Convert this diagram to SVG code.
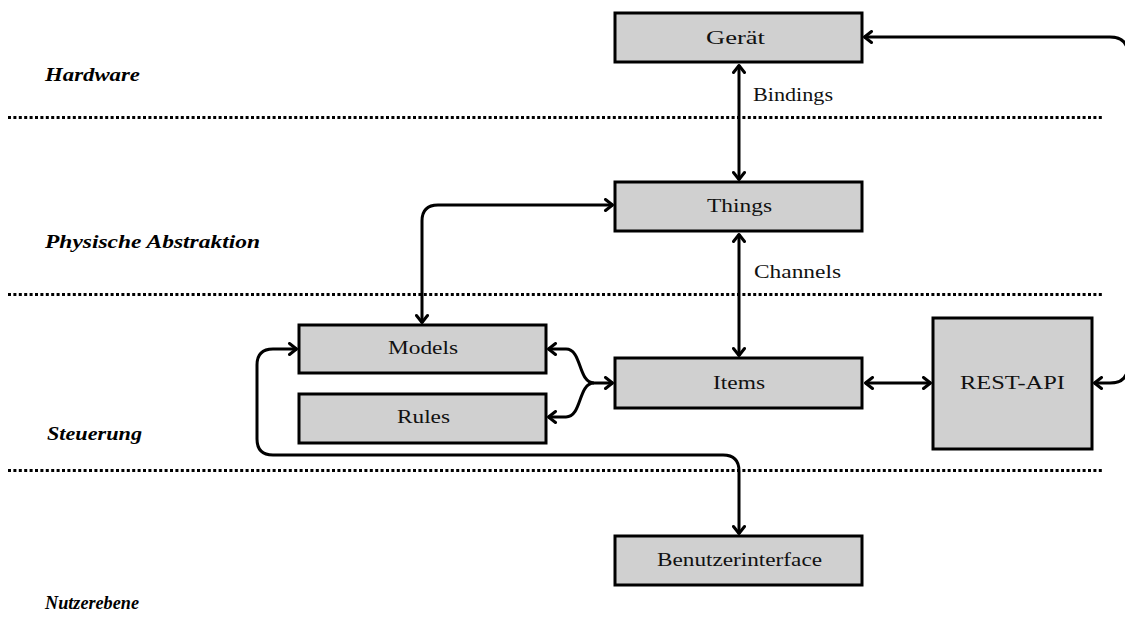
<svg xmlns="http://www.w3.org/2000/svg" width="1125" height="618" viewBox="0 0 1125 618">
  <defs>
    <style>
      .box { fill: #d0d0d0; stroke: #000; stroke-width: 3; }
      .lbl { font-family: "Liberation Serif", "Times New Roman", serif; font-size: 19px; fill: #111; }
      .layer { font-family: "Liberation Serif", "Times New Roman", serif; font-size: 19px; font-weight: bold; font-style: italic; fill: #000; }
      .sep { stroke: #000; stroke-width: 3; stroke-dasharray: 3 2.4; fill: none; }
      .wire { stroke: #000; stroke-width: 3; fill: none; }
    </style>
    <marker id="arr" viewBox="0 0 12 14" refX="10.5" refY="7" markerWidth="12" markerHeight="14" markerUnits="userSpaceOnUse" orient="auto-start-reverse">
      <path d="M3,1.5 L10,7 L3,12.5" fill="none" stroke="#000" stroke-width="3" stroke-linecap="round" stroke-linejoin="round"/>
    </marker>
  </defs>

  <rect width="1125" height="618" fill="#fff"/>

  <!-- layer separators -->
  <g id="separators">
    <line class="sep" x1="8" y1="117.5" x2="1102" y2="117.5"/>
    <line class="sep" x1="8" y1="294.5" x2="1102" y2="294.5"/>
    <line class="sep" x1="8" y1="470.5" x2="1102" y2="470.5"/>
  </g>

  <!-- layer names -->
  <g id="layers">
    <text class="layer" x="45" y="81" textLength="95" lengthAdjust="spacingAndGlyphs">Hardware</text>
    <text class="layer" x="45" y="248" textLength="215" lengthAdjust="spacingAndGlyphs">Physische Abstraktion</text>
    <text class="layer" x="47" y="440" textLength="95" lengthAdjust="spacingAndGlyphs">Steuerung</text>
    <text class="layer" x="45" y="609" style="font-size:18px" textLength="94" lengthAdjust="spacingAndGlyphs">Nutzerebene</text>
  </g>

  <!-- connectors -->
  <g id="connectors">
    <path class="wire" d="M739,65 V180" marker-start="url(#arr)" marker-end="url(#arr)"/>
    <path class="wire" d="M739,234 V356" marker-start="url(#arr)" marker-end="url(#arr)"/>
    <path class="wire" d="M422,323 V221 Q422,205 438,205 H613" marker-start="url(#arr)" marker-end="url(#arr)"/>
    <path class="wire" d="M865,383 H931" marker-start="url(#arr)" marker-end="url(#arr)"/>
    <path class="wire" d="M548,349 H566 C582,349 578,383 594,383 H613" marker-start="url(#arr)" marker-end="url(#arr)"/>
    <path class="wire" d="M548,417 H566 C582,417 578,383 594,383" marker-start="url(#arr)"/>
    <path class="wire" d="M864,37 H1110 Q1128,37 1128,55 V365 Q1128,383 1110,383 H1094" marker-start="url(#arr)" marker-end="url(#arr)"/>
    <path class="wire" d="M297,349 H273 Q257,349 257,365 V439 Q257,455 273,455 H723 Q739,455 739,471 V534" marker-start="url(#arr)" marker-end="url(#arr)"/>
    <text class="lbl" x="753" y="101" textLength="80" lengthAdjust="spacingAndGlyphs">Bindings</text>
    <text class="lbl" x="754" y="278" textLength="87" lengthAdjust="spacingAndGlyphs">Channels</text>
  </g>

  <g id="geraet">
    <rect class="box" x="615" y="13" width="247" height="49"/>
    <text class="lbl" x="706" y="44" textLength="59" lengthAdjust="spacingAndGlyphs">Gerät</text>
  </g>
  <g id="things">
    <rect class="box" x="615" y="182" width="247" height="49"/>
    <text class="lbl" x="707" y="212" textLength="65" lengthAdjust="spacingAndGlyphs">Things</text>
  </g>
  <g id="items">
    <rect class="box" x="615" y="358" width="247" height="50"/>
    <text class="lbl" x="713" y="389" textLength="52" lengthAdjust="spacingAndGlyphs">Items</text>
  </g>
  <g id="models">
    <rect class="box" x="299" y="325" width="247" height="48"/>
    <text class="lbl" x="388" y="354" textLength="70" lengthAdjust="spacingAndGlyphs">Models</text>
  </g>
  <g id="rules">
    <rect class="box" x="299" y="394" width="247" height="49"/>
    <text class="lbl" x="397" y="423" textLength="53" lengthAdjust="spacingAndGlyphs">Rules</text>
  </g>
  <g id="rest-api">
    <rect class="box" x="933" y="318" width="159" height="131"/>
    <text class="lbl" x="960" y="389" textLength="105" lengthAdjust="spacingAndGlyphs">REST-API</text>
  </g>
  <g id="benutzerinterface">
    <rect class="box" x="615" y="536" width="247" height="49"/>
    <text class="lbl" x="657" y="566" textLength="165" lengthAdjust="spacingAndGlyphs">Benutzerinterface</text>
  </g>
</svg>
